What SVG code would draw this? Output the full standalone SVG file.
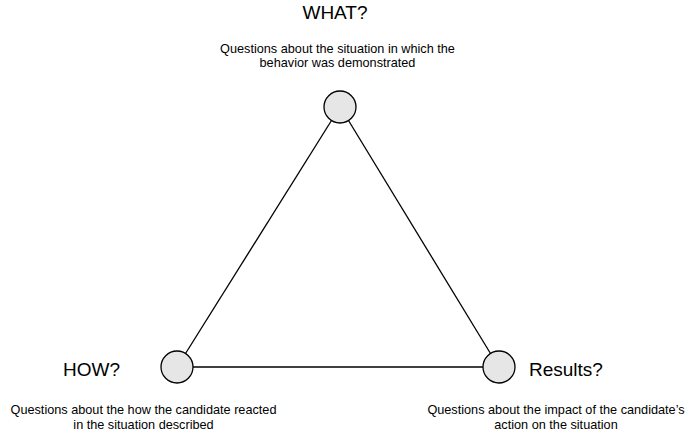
<svg xmlns="http://www.w3.org/2000/svg" width="691" height="440" viewBox="0 0 691 440">
  <style>
    .node { fill: #e6e6e6; stroke: #000; stroke-width: 1.3; }
    .edge { stroke: #000; stroke-width: 1.3; fill: none; }
    .title { font-family: "Liberation Sans", Arial, sans-serif; font-size: 19px; fill: #000; }
    .desc { font-family: "Liberation Sans", Arial, sans-serif; font-size: 12.7px; fill: #000; text-anchor: middle; }
  </style>
  <rect width="691" height="440" fill="#fff"/>
  <g id="connectors">
    <line class="edge" x1="331.5" y1="120.5" x2="185.5" y2="353.5"/>
    <line class="edge" x1="348.5" y1="120.5" x2="490.5" y2="353.5"/>
    <line class="edge" x1="193" y1="367" x2="483" y2="367"/>
  </g>
  <g id="what">
    <circle class="node" cx="340" cy="107" r="16"/>
    <text class="title" x="335" y="19" text-anchor="middle">WHAT?</text>
    <text class="desc" x="337.5" y="53">Questions about the situation in which the</text>
    <text class="desc" x="337.5" y="67">behavior was demonstrated</text>
  </g>
  <g id="how">
    <circle class="node" cx="177" cy="367" r="16"/>
    <text class="title" x="63" y="376">HOW?</text>
    <text class="desc" x="143.5" y="414">Questions about the how the candidate reacted</text>
    <text class="desc" x="143.5" y="428.5">in the situation described</text>
  </g>
  <g id="results">
    <circle class="node" cx="499" cy="367" r="16"/>
    <text class="title" x="529" y="376">Results?</text>
    <text class="desc" x="556" y="414">Questions about the impact of the candidate’s</text>
    <text class="desc" x="556" y="428.5">action on the situation</text>
  </g>
</svg>
